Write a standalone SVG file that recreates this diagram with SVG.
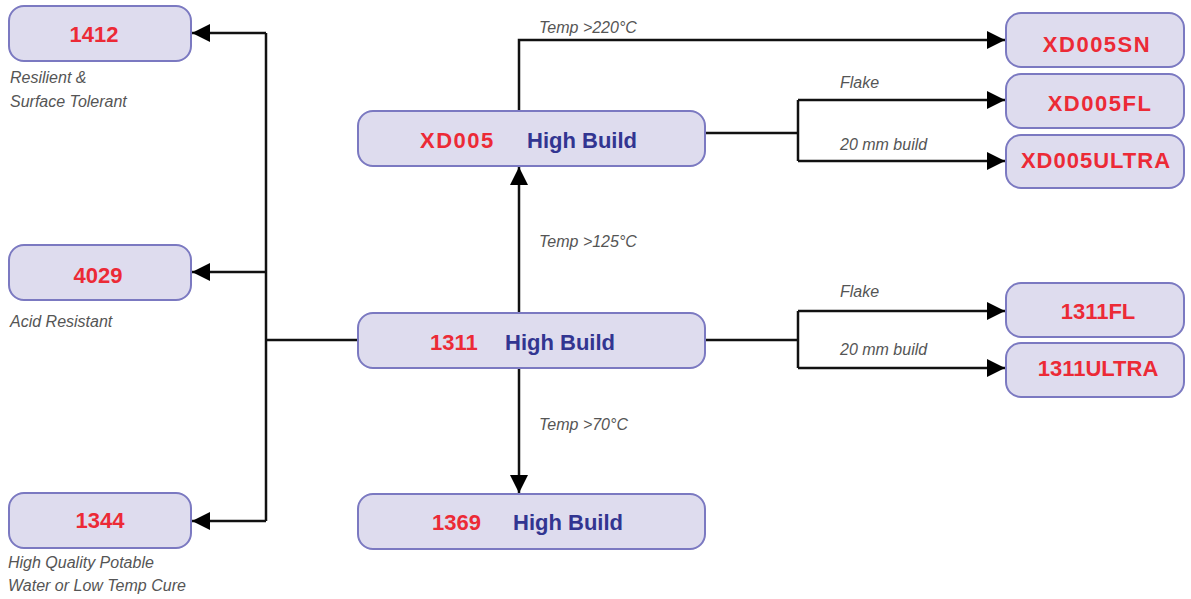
<svg xmlns="http://www.w3.org/2000/svg" width="1191" height="599" viewBox="0 0 1191 599">
<style>
.box{fill:#dedcee;stroke:#7b79c1;stroke-width:2}
.code{font-family:"Liberation Sans",Arial,sans-serif;font-weight:bold;font-size:22px;fill:#ec2a36}
.hb{font-family:"Liberation Sans",Arial,sans-serif;font-weight:bold;font-size:22px;fill:#323591}
.note{font-family:"Liberation Sans",Arial,sans-serif;font-style:italic;font-size:16px;fill:#555555}
.ln{fill:none;stroke:#111111;stroke-width:2.5}
</style>
<defs>
<marker id="ah" markerUnits="userSpaceOnUse" markerWidth="20" markerHeight="20" refX="18" refY="9" orient="auto">
<path d="M0,0 L18,9 L0,18 Z" fill="#000000"/>
</marker>
</defs>
<rect width="1191" height="599" fill="#ffffff"/>
<g id="connectors">
<path class="ln" d="M358,340 H266 M266,33 V521"/>
<path class="ln" d="M266,33 H192" marker-end="url(#ah)"/>
<path class="ln" d="M266,272 H192" marker-end="url(#ah)"/>
<path class="ln" d="M266,521 H192" marker-end="url(#ah)"/>
<path class="ln" d="M519,313 V167" marker-end="url(#ah)"/>
<path class="ln" d="M519,111 V40 H1005" marker-end="url(#ah)"/>
<path class="ln" d="M705,133 H798 M798,100 V161"/>
<path class="ln" d="M798,100 H1005" marker-end="url(#ah)"/>
<path class="ln" d="M798,161 H1005" marker-end="url(#ah)"/>
<path class="ln" d="M705,340 H798 M798,311 V368"/>
<path class="ln" d="M798,311 H1005" marker-end="url(#ah)"/>
<path class="ln" d="M798,368 H1005" marker-end="url(#ah)"/>
<path class="ln" d="M519,368 V493" marker-end="url(#ah)"/>
<text class="note" x="539" y="33">Temp &gt;220°C</text>
<text class="note" x="840" y="88">Flake</text>
<text class="note" x="840" y="150">20 mm build</text>
<text class="note" x="539" y="247">Temp &gt;125°C</text>
<text class="note" x="840" y="297">Flake</text>
<text class="note" x="840" y="355">20 mm build</text>
<text class="note" x="539" y="430">Temp &gt;70°C</text>
</g>
<g id="n1412">
<rect class="box" x="9" y="6" width="182" height="55" rx="15"/>
<text class="code" x="94" y="42" text-anchor="middle">1412</text>
<text class="note" x="10" y="83">Resilient &amp;</text>
<text class="note" x="10" y="107">Surface Tolerant</text>
</g>
<g id="n4029">
<rect class="box" x="9" y="245" width="182" height="55" rx="15"/>
<text class="code" x="98" y="283" text-anchor="middle">4029</text>
<text class="note" x="10" y="327">Acid Resistant</text>
</g>
<g id="n1344">
<rect class="box" x="9" y="493" width="182" height="55" rx="15"/>
<text class="code" x="100" y="528" text-anchor="middle">1344</text>
<text class="note" x="8" y="568">High Quality Potable</text>
<text class="note" x="8" y="591">Water or Low Temp Cure</text>
</g>
<g id="nXD005">
<rect class="box" x="358" y="111" width="347" height="55" rx="15"/>
<text class="code" x="420" y="148" letter-spacing="1.5">XD005</text>
<text class="hb" x="527" y="148">High Build</text>
</g>
<g id="n1311">
<rect class="box" x="358" y="313" width="347" height="55" rx="15"/>
<text class="code" x="430" y="350">1311</text>
<text class="hb" x="505" y="350">High Build</text>
</g>
<g id="n1369">
<rect class="box" x="358" y="494" width="347" height="55" rx="15"/>
<text class="code" x="432" y="530">1369</text>
<text class="hb" x="513" y="530">High Build</text>
</g>
<g id="nXD005SN">
<rect class="box" x="1006" y="13" width="178" height="54" rx="15"/>
<text class="code" x="1097" y="52" text-anchor="middle" letter-spacing="1.5">XD005SN</text>
</g>
<g id="nXD005FL">
<rect class="box" x="1006" y="74" width="178" height="54" rx="15"/>
<text class="code" x="1100" y="111" text-anchor="middle" letter-spacing="1.5">XD005FL</text>
</g>
<g id="nXD005ULTRA">
<rect class="box" x="1006" y="135" width="178" height="53" rx="15"/>
<text class="code" x="1096" y="168" text-anchor="middle" letter-spacing="1">XD005ULTRA</text>
</g>
<g id="n1311FL">
<rect class="box" x="1006" y="283" width="178" height="54" rx="15"/>
<text class="code" x="1098" y="319" text-anchor="middle">1311FL</text>
</g>
<g id="n1311ULTRA">
<rect class="box" x="1006" y="343" width="178" height="54" rx="15"/>
<text class="code" x="1098" y="376" text-anchor="middle">1311ULTRA</text>
</g>
</svg>
